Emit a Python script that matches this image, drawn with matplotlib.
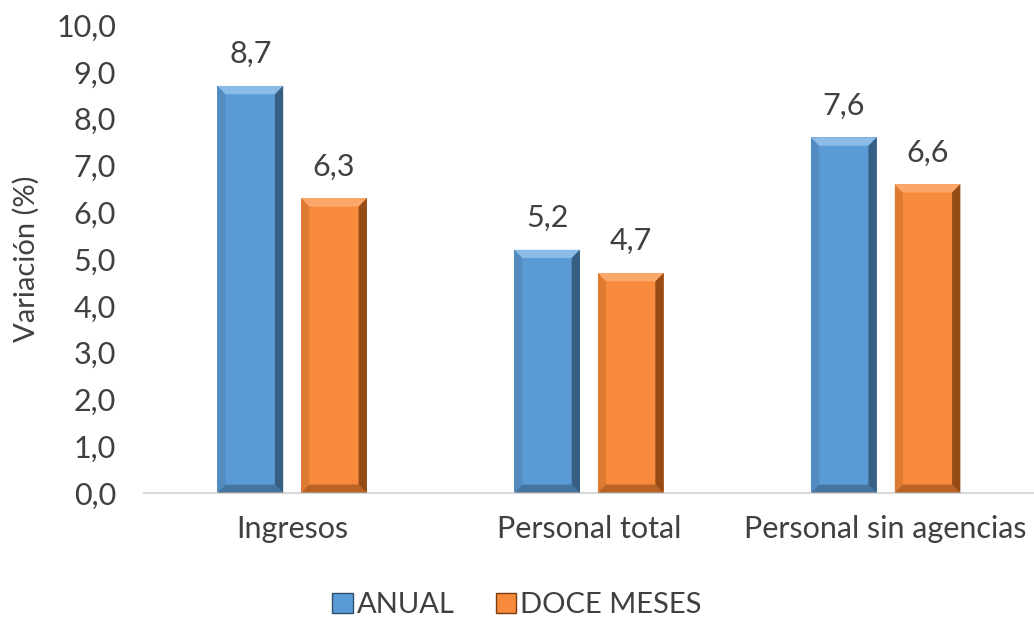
import matplotlib
matplotlib.use('Agg')
import matplotlib.pyplot as plt
from matplotlib.patches import Polygon, Patch
import numpy as np

categories = ["Ingresos", "Personal total", "Personal sin agencias"]
anual = [8.7, 5.2, 7.6]
doce_meses = [6.3, 4.7, 6.6]
series_names = ["ANUAL", "DOCE MESES"]

plt.rcParams['font.family'] = ['Lato', 'DejaVu Sans']
text_color = '#404040'

fig = plt.figure(figsize=(10.34, 6.19), dpi=100)
ax = fig.add_axes([0.139, 0.2036, 0.861, 0.756])

x = np.arange(len(categories))
width = 0.222
offset = 0.141

colors = [('#5B9BD5', '#9CC8EE', '#2F516F'), ('#F78A3C', '#FFB27A', '#7E3D0E')]


def bevel(ax, bar, light, dark):
    x0, y0 = bar.get_x(), bar.get_y()
    w, h = bar.get_width(), bar.get_height()
    bx, by = 0.028, 0.18
    x1, y1 = x0 + w, y0 + h
    # top bevel
    ax.add_patch(Polygon([(x0, y1), (x1, y1), (x1 - bx, y1 - by), (x0 + bx, y1 - by)],
                         closed=True, facecolor=light, edgecolor='none', alpha=0.75, zorder=3))
    # right shade
    ax.add_patch(Polygon([(x1, y1), (x1, y0), (x1 - bx, y0 + by), (x1 - bx, y1 - by)],
                         closed=True, facecolor=dark, edgecolor='none', alpha=0.8, zorder=3))
    # bottom shade
    ax.add_patch(Polygon([(x0, y0), (x1, y0), (x1 - bx, y0 + by), (x0 + bx, y0 + by)],
                         closed=True, facecolor=dark, edgecolor='none', alpha=0.5, zorder=3))
    # left edge
    ax.add_patch(Polygon([(x0, y0), (x0, y1), (x0 + bx, y1 - by), (x0 + bx, y0 + by)],
                         closed=True, facecolor=dark, edgecolor='none', alpha=0.2, zorder=3))


for vals, off, (base, light, dark), name in zip([anual, doce_meses], [-offset, offset], colors, series_names):
    bars = ax.bar(x + off, vals, width, color=base, zorder=2, label=name)
    for b, v in zip(bars, vals):
        bevel(ax, b, light, dark)
        ax.text(b.get_x() + b.get_width() / 2, v + 0.38, f"{v:.1f}".replace('.', ','),
                ha='center', va='bottom', fontsize=22, color=text_color)

ax.set_xlim(-0.5, 2.5)
ax.set_ylim(0, 10)
ax.set_yticks(np.arange(0, 10.1, 1))
ax.set_yticklabels([f"{v:.1f}".replace('.', ',') for v in np.arange(0, 10.1, 1)])
ax.set_xticks(x)
ax.set_xticklabels(categories)
ax.tick_params(axis='both', length=0, labelsize=22, labelcolor=text_color)
ax.tick_params(axis='x', pad=16)
ax.tick_params(axis='y', pad=20)
for s in ['top', 'right', 'left']:
    ax.spines[s].set_visible(False)
ax.spines['bottom'].set_color('#D9D9D9')
ax.spines['bottom'].set_linewidth(1.5)
ax.set_ylabel("Variación (%)", fontsize=21, color=text_color, labelpad=12)

handles = [Patch(facecolor=colors[0][0], edgecolor=colors[0][2]),
           Patch(facecolor=colors[1][0], edgecolor=colors[1][2])]
fig.legend(handles, series_names, loc='center', bbox_to_anchor=(0.5, 0.022), ncol=2,
           frameon=False, fontsize=21, handlelength=0.7, handleheight=0.7,
           handletextpad=0.15, columnspacing=1.4, labelcolor=text_color)

fig.savefig('out.png', dpi=100)
